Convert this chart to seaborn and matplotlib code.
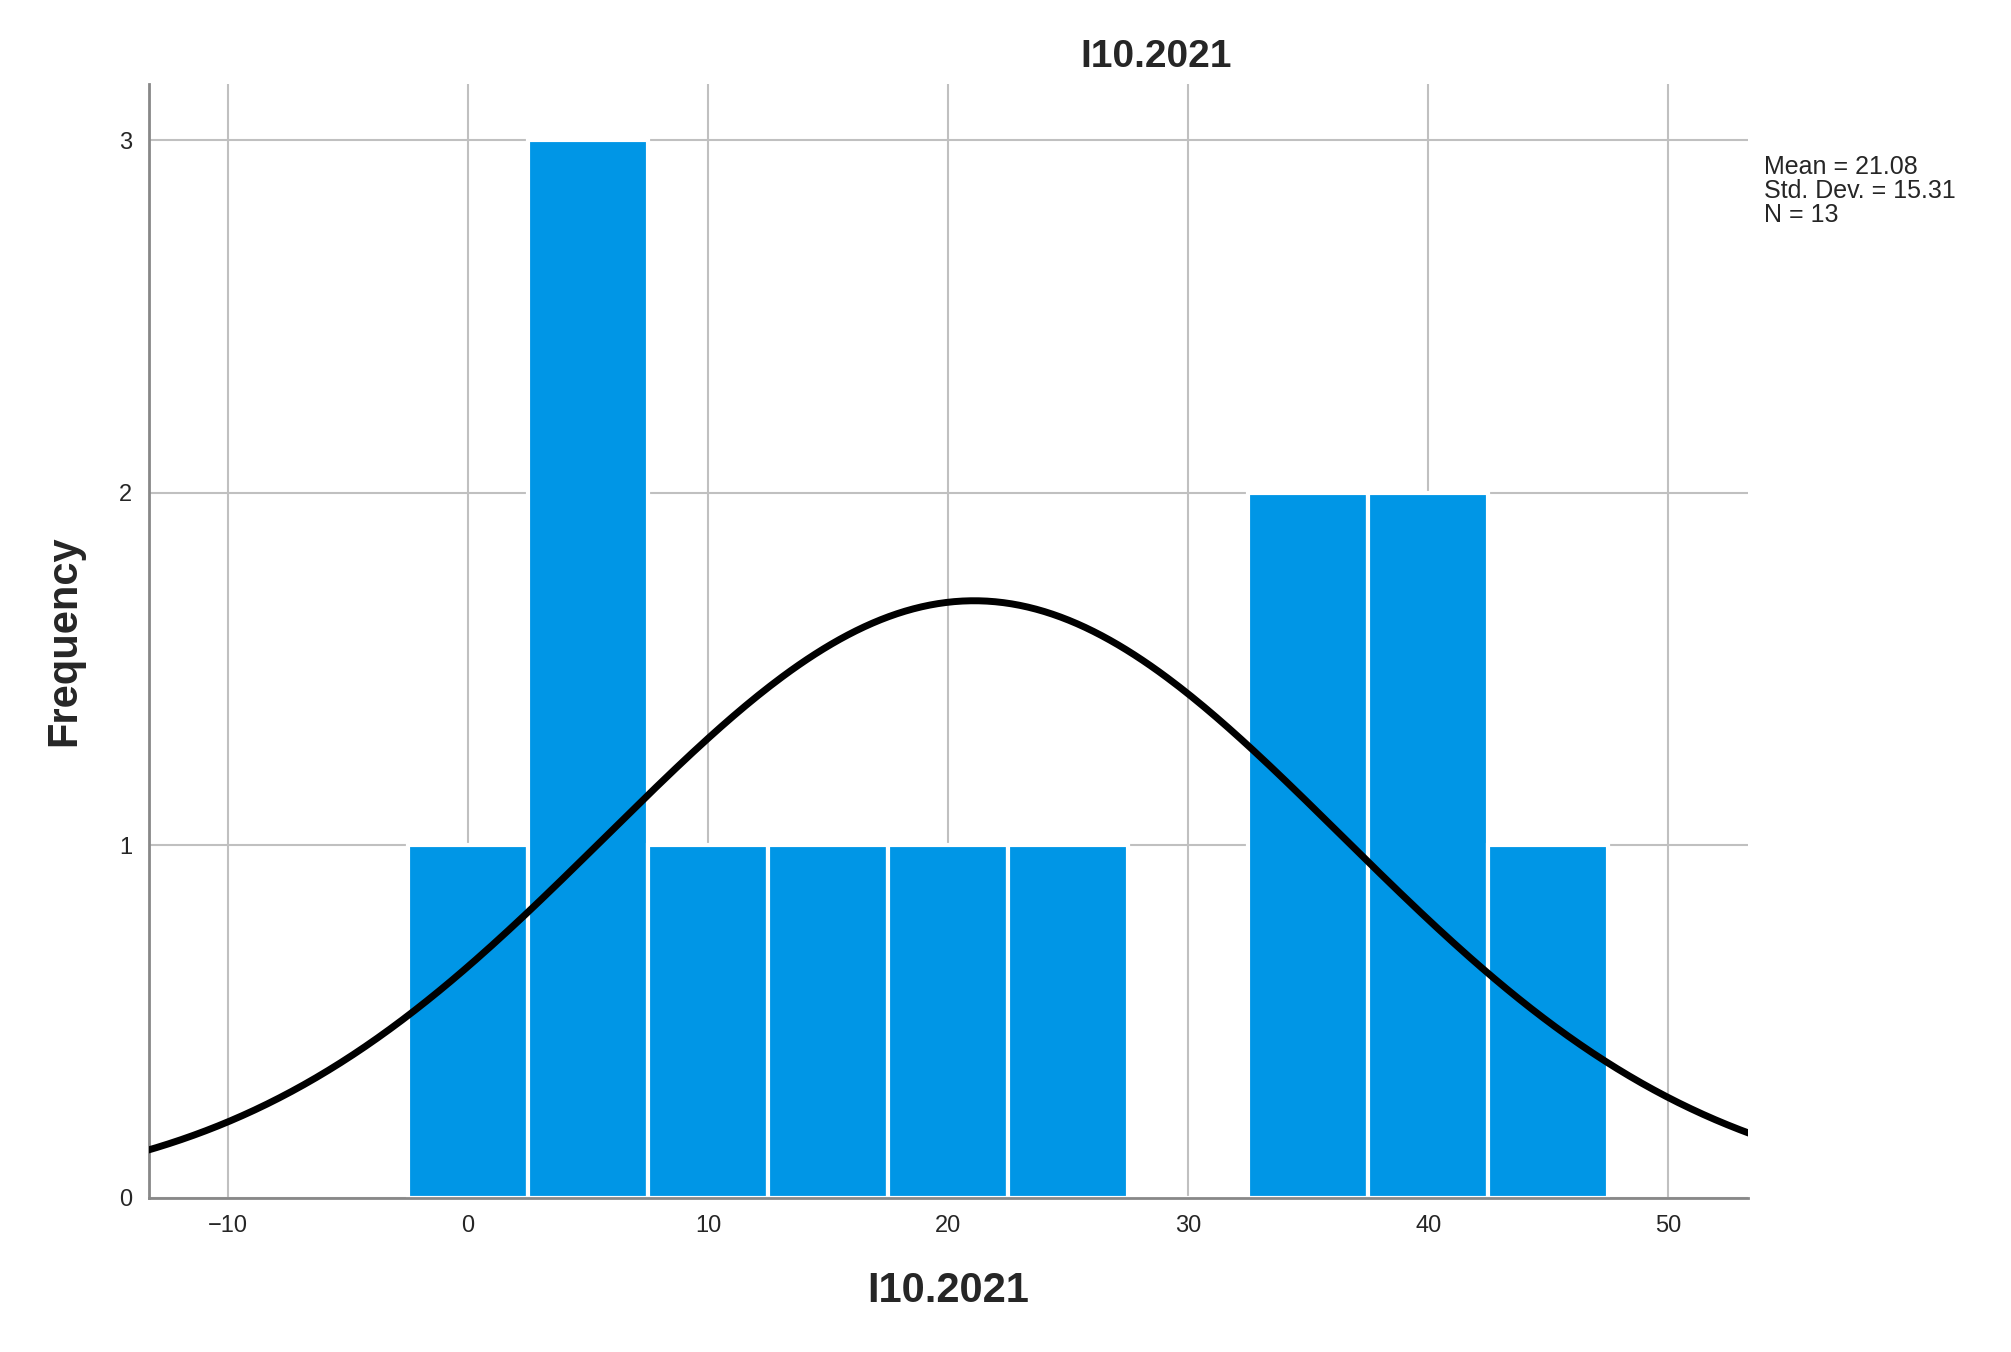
import numpy as np
import matplotlib.pyplot as plt
import seaborn as sns

# histogram bins (bin width 5)
bin_edges = [-2.5, 2.5, 7.5, 12.5, 17.5, 22.5, 27.5, 32.5, 37.5, 42.5, 47.5]
bin_counts = [1, 3, 1, 1, 1, 1, 0, 2, 2, 1]
mean_val = 21.08
std_val = 15.31
n_obs = 13
x_ticks = [-10, 0, 10, 20, 30, 40, 50]
y_ticks = [0, 1, 2, 3]

sns.set_style("white")
plt.rcParams['font.family'] = ['Liberation Sans', 'DejaVu Sans']

fig = plt.figure(figsize=(20.11, 13.52), dpi=100)
ax = fig.add_axes([0.074, 0.114, 0.795, 0.824])

centers = [(a + b) / 2 for a, b in zip(bin_edges[:-1], bin_edges[1:])]
sns.histplot(x=centers, weights=bin_counts, bins=bin_edges, ax=ax,
             color='#0096e6', alpha=1, edgecolor='white', linewidth=3, zorder=2)

xs = np.linspace(-14, 54, 400)
bw = bin_edges[1] - bin_edges[0]
ys = n_obs * bw * np.exp(-0.5 * ((xs - mean_val) / std_val) ** 2) / (std_val * np.sqrt(2 * np.pi))
sns.lineplot(x=xs, y=ys, ax=ax, color='black', linewidth=5, zorder=3)

ax.set_xlim(-13.3, 53.3)
ax.set_ylim(0, 3.16)
ax.set_xticks(x_ticks)
ax.set_yticks(y_ticks)
ax.grid(True, color='#c0c0c0', linewidth=1.5, zorder=0)
ax.set_axisbelow(True)
for s in ['top', 'right']:
    ax.spines[s].set_visible(False)
for s in ['left', 'bottom']:
    ax.spines[s].set_color('#888888')
    ax.spines[s].set_linewidth(2)
ax.tick_params(labelsize=17, length=0, pad=12)

ax.set_xlabel('I10.2021', fontsize=30, fontweight='bold', labelpad=25)
ax.set_ylabel('Frequency', fontsize=30, fontweight='bold', labelpad=25)
ax.set_title('I10.2021', fontsize=28, fontweight='bold', pad=12, x=0.63)

fig.text(0.877, 0.885, 'Mean = %.2f\nStd. Dev. = %.2f\nN = %d' % (mean_val, std_val, n_obs),
         fontsize=18, va='top', ha='left', linespacing=1.0)

fig.savefig('out.png', dpi=100, facecolor='white')
